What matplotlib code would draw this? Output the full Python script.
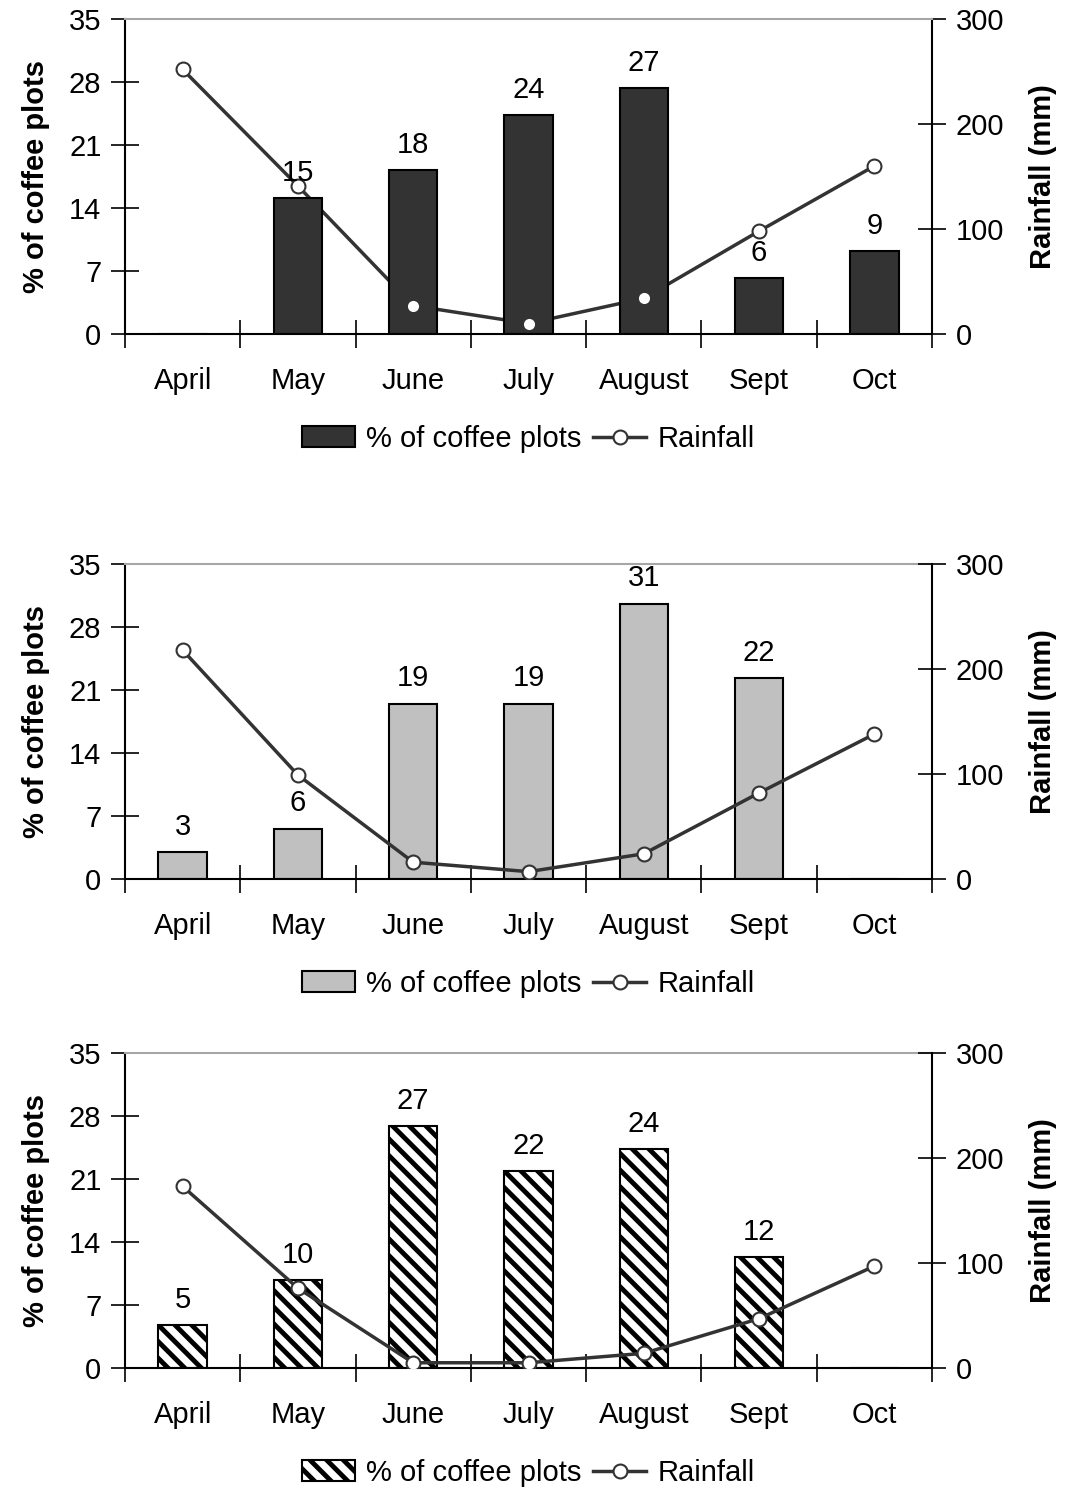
#!/usr/bin/env python3
"""coffee_plots_rainfall.py"""

import matplotlib

matplotlib.use("Agg")
import matplotlib.pyplot as plt
import numpy as np

from matplotlib.axes import Axes

plt.rcParams["font.family"] = ["Liberation Sans", "DejaVu Sans"]
plt.rcParams["hatch.linewidth"] = 3.5

months = ["April", "May", "June", "July", "August", "Sept", "Oct"]

# top panel
plots_a = [0, 15.1, 18.2, 24.3, 27.3, 6.2, 9.2]
labels_a = ["", "15", "18", "24", "27", "6", "9"]
rain_a = [252, 141, 27, 10, 34, 98, 160]

# middle panel
plots_b = [3.0, 5.6, 19.5, 19.5, 30.6, 22.3, 0]
labels_b = ["3", "6", "19", "19", "31", "22", ""]
rain_b = [218, 99, 16, 7, 24, 82, 138]

# bottom panel
plots_c = [4.8, 9.8, 26.9, 21.9, 24.3, 12.3, 0]
labels_c = ["5", "10", "27", "22", "24", "12", ""]
rain_c = [173, 76, 5, 5, 14, 47, 97]

DARK = "#333333"
FS = 21


def plot(ax: Axes, values, labels, rain, face, hatch=None, bars_on_top=False) -> None:
    """Bars of % of coffee plots with the rainfall line on a twin axis"""
    x = np.arange(len(months))
    ax2 = ax.twinx()

    bars = ax.bar(x, values, width=0.42, color=face, edgecolor="black",
                  linewidth=1.5, hatch=hatch, label="% of coffee plots", zorder=2)
    for xi, v, lbl in zip(x, values, labels):
        if lbl:
            ax.annotate(lbl, (xi, v), xytext=(0, 8), textcoords="offset points",
                        ha="center", va="bottom", fontsize=FS, zorder=3)

    line, = ax2.plot(x, rain, color=DARK, linewidth=2.5, marker="o",
                     markersize=10, markerfacecolor="white",
                     markeredgecolor=DARK, markeredgewidth=1.5, label="Rainfall")

    if bars_on_top:
        # bars hide the line, only the white marker faces show through
        ax.set_zorder(ax2.get_zorder() + 1)
        ax.patch.set_visible(False)
        ax3 = ax.twinx()
        ax3.set_zorder(ax.get_zorder() + 1)
        ax3.set_ylim(0, 300)
        ax3.axis("off")
        ax3.plot(x, rain, linestyle="none", marker="o", markersize=8,
                 markerfacecolor="white", markeredgecolor="none")
        top = ax3
    else:
        top = ax2

    ax.set_xlim(-0.5, 6.5)
    ax.set_ylim(0, 35)
    ax2.set_ylim(0, 300)
    ax.set_yticks(range(0, 36, 7))
    ax2.set_yticks(range(0, 301, 100))

    ax.set_xticks(np.arange(-0.5, 7, 1))
    ax.set_xticklabels([])
    ax.set_xticks(x, minor=True)
    ax.set_xticklabels(months, minor=True)
    ax.tick_params(axis="x", which="major", direction="inout", length=20, width=1.2)
    ax.tick_params(axis="x", which="minor", length=0, labelsize=FS, pad=24)
    ax.tick_params(axis="y", direction="inout", length=20, width=1.2,
                   labelsize=FS, pad=7)
    ax2.tick_params(axis="y", direction="inout", length=20, width=1.2,
                    labelsize=FS, pad=7)

    for s in ["left", "bottom"]:
        ax.spines[s].set_linewidth(1.5)
    ax.spines["right"].set_visible(False)
    ax.spines["top"].set_color("#a6a6a6")
    ax.spines["top"].set_linewidth(1.5)
    for s in ["left", "bottom", "top"]:
        ax2.spines[s].set_visible(False)
    ax2.spines["right"].set_linewidth(1.5)

    ax.set_ylabel("% of coffee plots", fontsize=FS, fontweight="bold")
    ax.yaxis.set_label_coords(-0.093, 0.5)
    ax2.set_ylabel("Rainfall (mm)", fontsize=FS, fontweight="bold")
    ax2.yaxis.set_label_coords(1.12, 0.5)

    top.legend([bars, line], ["% of coffee plots", "Rainfall"], loc="center",
               bbox_to_anchor=(0.5, -0.333), ncol=2, frameon=False, fontsize=FS,
               handlelength=1.8, handletextpad=0.4, columnspacing=0.4)


def main() -> None:
    fig = plt.figure(figsize=(10.66, 14.9), dpi=100)
    left, width, height = 125 / 1066, 807 / 1066, 315 / 1490
    ax_a = fig.add_axes([left, 1 - 334 / 1490, width, height])
    ax_b = fig.add_axes([left, 1 - 879 / 1490, width, height])
    ax_c = fig.add_axes([left, 1 - 1368 / 1490, width, height])
    plot(ax_a, plots_a, labels_a, rain_a, DARK, bars_on_top=True)
    plot(ax_b, plots_b, labels_b, rain_b, "#c0c0c0")
    plot(ax_c, plots_c, labels_c, rain_c, "white", hatch="\\\\")
    fig.savefig("out.png", dpi=100)


if __name__ == "__main__":
    main()
